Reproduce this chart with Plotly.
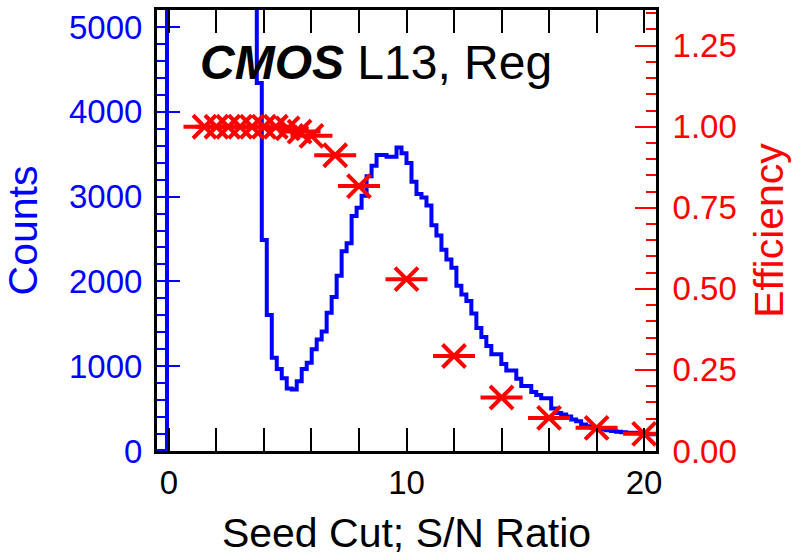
import plotly.graph_objects as go

# Seed-cluster S/N histogram: 100 equal bins over [-0.5, 20.5]
hist_lo, hist_hi, n_bins = -0.5, 20.5, 100
counts = [
    0, 0,
    # bins below S/N ~3.7 run far above the axis top
    98000, 61000, 42000, 30500, 24000, 19800, 17000, 15100, 13600,
    12300, 11200, 10300, 9400, 8600, 7800, 7000, 6300, 5600,
    4339, 2489, 1603, 1100, 968, 859, 736, 724, 821, 968,
    1040, 1199, 1314, 1410, 1630, 1815, 2066, 2355, 2451, 2771,
    2867, 3009, 3240, 3364, 3491, 3491, 3471, 3471, 3580, 3511,
    3395, 3176, 3029, 2990, 2894, 2662, 2540, 2373, 2258, 2162,
    1950, 1846, 1769, 1622, 1449, 1345, 1237, 1141, 1141, 1025,
    948, 948, 852, 766, 766, 697, 659, 621, 621, 500,
    447, 430, 408, 370, 350, 312, 292, 274, 266, 254,
    246, 235, 228, 222, 216, 214, 210, 206, 200, 197,
]

# Seed-cut scan: efficiency per cut value
seed_cut = [1.5, 2.0, 2.5, 3.0, 3.5, 4.0, 4.5, 5.0, 5.5, 6.0,
            7.0, 8.0, 10.0, 12.0, 14.0, 16.0, 18.0, 20.0]
efficiency = [1.0, 1.0, 1.0, 1.0, 1.0, 1.0, 1.0, 0.995, 0.985, 0.972,
              0.912, 0.817, 0.530, 0.293, 0.165, 0.102, 0.0715, 0.053]

x_range = [-0.5, 20.5]
counts_range = [0, 5200]
eff_range = [0, 1.36]

FONT = "Liberation Sans"
BLUE = "#0000ff"
RED = "#ff0000"

width = (hist_hi - hist_lo) / n_bins
edges = [hist_lo + i * width for i in range(n_bins + 1)]
step_y = counts + [counts[-1]]

fig = go.Figure()

fig.add_trace(go.Scatter(
    x=edges, y=step_y, mode="lines", line_shape="hv",
    line=dict(color=BLUE, width=4), yaxis="y", hoverinfo="skip",
    showlegend=False,
))

# star marker: an "x" with a horizontal bar through it
fig.add_trace(go.Scatter(
    x=seed_cut, y=efficiency, mode="markers", yaxis="y2",
    marker=dict(symbol="line-ew", size=30, line=dict(color=RED, width=4)),
    showlegend=False,
))
fig.add_trace(go.Scatter(
    x=seed_cut, y=efficiency, mode="markers", yaxis="y2",
    marker=dict(symbol="x-thin", size=23, line=dict(color=RED, width=4)),
    showlegend=False,
))

fig.update_layout(
    width=792, height=556,
    margin=dict(l=157, r=132, t=7, b=99),
    plot_bgcolor="white", paper_bgcolor="white",
    font=dict(family=FONT, color="black"),
    xaxis=dict(
        range=x_range, tick0=0, dtick=10,
        ticks="inside", ticklen=23, tickwidth=2, tickcolor="black",
        minor=dict(dtick=2, ticks="inside", ticklen=11, tickwidth=2,
                   tickcolor="black"),
        showline=True, linewidth=3, linecolor="black", mirror="allticks",
        showgrid=False, zeroline=False,
        tickfont=dict(size=33, color="black"),
        ticklabelstandoff=0,
        title=dict(text="Seed Cut; S/N Ratio", font=dict(size=41),
                   standoff=20),
    ),
    yaxis=dict(
        range=counts_range, tick0=0, dtick=1000,
        ticks="inside", ticklen=23, tickwidth=2, tickcolor=BLUE,
        minor=dict(dtick=200, ticks="inside", ticklen=11, tickwidth=2,
                   tickcolor=BLUE),
        showline=True, linewidth=3, linecolor="black",
        showgrid=False, zeroline=False,
        tickfont=dict(size=33, color=BLUE),
        ticklabelstandoff=5,
        title=dict(text="Counts", font=dict(size=41, color=BLUE),
                   standoff=27),
    ),
    yaxis2=dict(
        range=eff_range, overlaying="y", side="right",
        tick0=0, dtick=0.25, tickformat=".2f",
        ticks="inside", ticklen=21, tickwidth=2, tickcolor=RED,
        minor=dict(dtick=0.05, ticks="inside", ticklen=10, tickwidth=2,
                   tickcolor=RED),
        showline=True, linewidth=3, linecolor="black",
        showgrid=False, zeroline=False,
        tickfont=dict(size=33, color=RED),
        ticklabelstandoff=7,
        title=dict(text="Efficiency", font=dict(size=41, color=RED),
                   standoff=19),
    ),
    annotations=[dict(
        text="<b><i>CMOS</i></b> L13, Reg",
        xref="paper", yref="paper", x=0.083, y=0.88,
        xanchor="left", yanchor="middle", showarrow=False,
        font=dict(family=FONT, size=48, color="black"),
    )],
)

fig.write_html("out.html")
